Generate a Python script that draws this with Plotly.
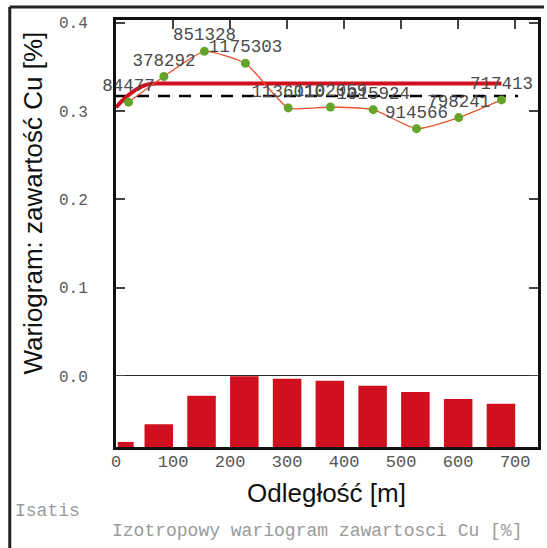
import plotly.graph_objects as go

# ---- data ----
lag_dist = [22, 84, 155, 227, 302, 376, 451, 527, 601, 676]
gamma = [0.310, 0.339, 0.3675, 0.354, 0.3035, 0.3045, 0.3015, 0.280, 0.2925, 0.3125]
pair_labels = ["84477", "378292", "851328", "1175303", "1136010", "1102059",
               "1015924", "914566", "798241", "717413"]
pair_counts = [84477, 378292, 851328, 1175303, 1136010, 1102059,
               1015924, 914566, 798241, 717413]
class_centers = [17, 75, 150, 225, 300, 375, 450, 525, 600, 675]
class_widths = [28, 50, 50, 50, 50, 50, 50, 50, 50, 50]

model_x = [0, 10, 20, 30, 40, 50, 60, 70, 80, 676]
model_y = [0.304, 0.311, 0.317, 0.322, 0.326, 0.329, 0.3305, 0.331, 0.331, 0.331]

variance_x = [0, 705]
variance_y = [0.317, 0.317]

x_ticks = [0, 100, 200, 300, 400, 500, 600, 700]
y_ticks = [0.0, 0.1, 0.2, 0.3, 0.4]
y_tick_text = ["0.0", "0.1", "0.2", "0.3", "0.4"]

RED = "#d0101f"
MONO = "Liberation Mono, Courier New, monospace"
SANS = "Liberation Sans, Arial, sans-serif"

fig = go.Figure()

# pair-count histogram (lower panel)
fig.add_trace(go.Bar(
    x=class_centers, y=pair_counts, width=class_widths,
    marker=dict(color=RED, line=dict(width=0)),
    yaxis="y2", showlegend=False, hoverinfo="skip"))

# variance (dashed)
fig.add_trace(go.Scatter(
    x=variance_x, y=variance_y, mode="lines",
    line=dict(color="black", width=2.5, dash="12px,9px"),
    showlegend=False, hoverinfo="skip"))

# model
fig.add_trace(go.Scatter(
    x=model_x, y=model_y, mode="lines",
    line=dict(color=RED, width=4, shape="spline", smoothing=0.6),
    showlegend=False, hoverinfo="skip", cliponaxis=False))

# experimental variogram
fig.add_trace(go.Scatter(
    x=lag_dist, y=gamma, mode="lines+markers+text",
    line=dict(color="#e8532c", width=1.3, shape="spline", smoothing=0.5),
    marker=dict(color="#63a52a", size=9),
    text=pair_labels, textposition="top center",
    textfont=dict(family=MONO, size=17.5, color="#4a4a4a"),
    showlegend=False, cliponaxis=False))

fig.update_layout(
    width=547, height=548,
    margin=dict(l=116, r=6, t=20, b=101),
    paper_bgcolor="white", plot_bgcolor="white",
    xaxis=dict(
        range=[0, 740], tickvals=x_ticks, ticks="inside", ticklen=9, tickwidth=1.5,
        tickcolor="#444", showline=True, linecolor="#111", linewidth=3, mirror="ticks",
        showgrid=False, zeroline=False, ticklabelstandoff=-3,
        tickfont=dict(family=MONO, size=17, color="#555555")),
    yaxis=dict(
        range=[-0.0804, 0.4030], tickvals=y_ticks, ticktext=y_tick_text,
        ticks="inside", ticklen=9, tickwidth=1.5, tickcolor="#444",
        showline=True, linecolor="#111", linewidth=3, mirror="ticks",
        showgrid=False, zeroline=True, zerolinecolor="#222", zerolinewidth=1.5,
        ticklabelstandoff=22,
        tickfont=dict(family=MONO, size=16, color="#5a5a5a")),
    yaxis2=dict(
        domain=[0, 0.1663], range=[0, 1180000],
        anchor="x", showticklabels=False, ticks="", showline=False,
        showgrid=False, zeroline=False),
    annotations=[
        dict(text="Wariogram: zawartość Cu [%]", xref="paper", yref="paper",
             x=(32 - 116) / 425, y=(447 - 203) / 427, textangle=-90,
             xanchor="center", yanchor="middle",
             showarrow=False, font=dict(family=SANS, size=26, color="#111")),
        dict(text="Odległość [m]", xref="paper", yref="paper",
             x=(328 - 116) / 425, y=(447 - 493) / 427,
             xanchor="center", yanchor="middle",
             showarrow=False, font=dict(family=SANS, size=26, color="#111")),
        dict(text="Isatis", xref="paper", yref="paper",
             x=(12 - 116) / 425, y=(447 - 511) / 427, xanchor="left", yanchor="middle",
             showarrow=False, font=dict(family=MONO, size=18, color="#9a9a9a")),
        dict(text="Izotropowy wariogram zawartosci Cu [%]", xref="paper", yref="paper",
             x=(318 - 116) / 425, y=(447 - 531) / 427,
             xanchor="center", yanchor="middle",
             showarrow=False, font=dict(family=MONO, size=18, color="#9a9a9a")),
    ],
    shapes=[
        dict(type="line", xref="paper", yref="paper",
             x0=(9 - 116) / 425, x1=(547 - 116) / 425,
             y0=(447 - 7) / 427, y1=(447 - 7) / 427,
             line=dict(color="#222", width=3)),
        dict(type="line", xref="paper", yref="paper",
             x0=(9 - 116) / 425, x1=(9 - 116) / 425,
             y0=(447 - 7) / 427, y1=(447 - 548) / 427,
             line=dict(color="#222", width=3)),
    ],
)

fig.write_html("out.html")
